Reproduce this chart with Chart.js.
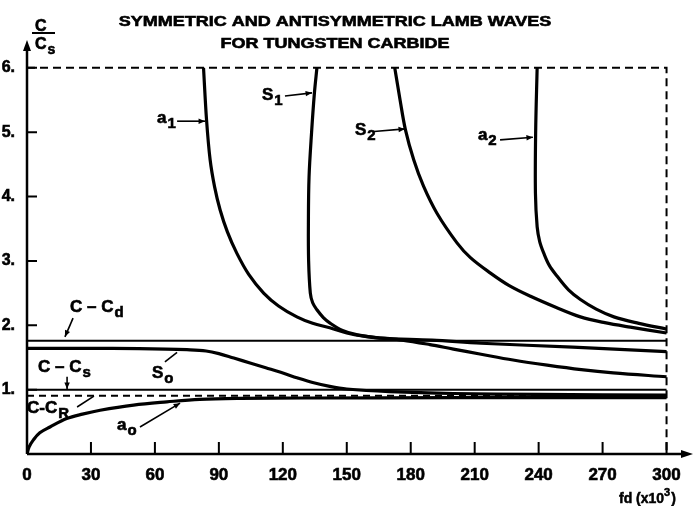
<!DOCTYPE html>
<html>
<head>
<meta charset="utf-8">
<script src="https://cdn.jsdelivr.net/npm/chart.js@4"></script>
<style>
  html, body { margin: 0; padding: 0; background: #fff; }
</style>
</head>
<body>
<canvas id="chart" width="698" height="506"></canvas>
<script>
// axis ticks
const xTicks = [0, 30, 60, 90, 120, 150, 180, 210, 240, 270, 300];
const yTicks = [1, 2, 3, 4, 5, 6];

// reference velocities (C/Cs)
const cdLevel = 1.76;
const csLevel = 1.0;
const crLevel = 0.905;
const frameTop = 6;
const frameRight = 300;

// antisymmetric modes (fd x10^3 -> C/Cs)
const a0Fd = [0, 1, 3, 6, 10.8, 18.6, 26, 34.3, 50, 65.6, 81, 100, 130, 200, 300];
const a0C  = [0, 0.11, 0.22, 0.33, 0.42, 0.55, 0.62, 0.68, 0.76, 0.81, 0.85, 0.865, 0.87, 0.875, 0.875];

const a1Fd = [82.8, 84.2, 85.9, 88, 90.6, 94, 98.4, 104, 111, 118, 126.6, 134, 142, 150, 158, 166, 176, 189, 200, 213, 228, 244, 260, 275, 300];
const a1C  = [6.0, 5.2, 4.57, 4.15, 3.79, 3.45, 3.12, 2.79, 2.5, 2.3, 2.13, 2.03, 1.96, 1.88, 1.83, 1.8, 1.77, 1.7, 1.63, 1.55, 1.46, 1.38, 1.31, 1.26, 1.2];

const a2Fd = [239.3, 238.6, 238.5, 239.3, 240.5, 242.4, 245, 248.7, 254, 259.6, 267, 275.3, 287, 300];
const a2C  = [6.0, 5.0, 4.05, 3.53, 3.3, 3.12, 2.93, 2.76, 2.55, 2.4, 2.25, 2.13, 2.03, 1.94];

// symmetric modes
const s0Fd = [0, 40, 65, 75, 84, 90, 97, 105, 112, 119, 127, 134, 142, 150, 170, 200, 240, 300];
const s0C  = [1.64, 1.64, 1.63, 1.62, 1.6, 1.56, 1.49, 1.41, 1.34, 1.27, 1.18, 1.11, 1.05, 1.01, 0.97, 0.94, 0.925, 0.915];

const s1Fd = [136, 134.8, 133.5, 132.3, 132, 132.1, 132.9, 134, 136, 139, 142.3, 148, 155, 166, 190, 213, 256, 300];
const s1C  = [6.0, 5.6, 5.0, 4.3, 3.6, 3.0, 2.5, 2.35, 2.24, 2.12, 2.03, 1.92, 1.85, 1.8, 1.77, 1.72, 1.66, 1.59];

const s2Fd = [172.5, 175, 177.5, 181.4, 186, 192.3, 201.7, 208, 217.4, 226, 236.2, 248, 259.6, 271, 283, 300];
const s2C  = [6.0, 5.5, 5.04, 4.57, 4.16, 3.74, 3.28, 3.05, 2.81, 2.62, 2.45, 2.28, 2.13, 2.04, 1.97, 1.88];

const FONT = '"Liberation Sans", Arial, Helvetica, sans-serif';

const pts = (xs, ys) => xs.map((v, i) => ({ x: v, y: ys[i] }));
const curve = (xs, ys) => ({
    data: pts(xs, ys), borderColor: '#000', borderWidth: 3.2,
    pointRadius: 0, showLine: true, tension: 0.35, fill: false
});
const level = (c, width, dash) => ({
    data: [{ x: 0, y: c }, { x: frameRight, y: c }], borderColor: '#000',
    borderWidth: width, borderDash: dash || [], pointRadius: 0, showLine: true, tension: 0
});

// label annotations: text, subscript, text position, pointer line (all in data units)
const notes = [
    { base: 'a', sub: '1', at: [61.0, 5.14], from: [70.4, 5.17], to: [83.5, 5.17], head: true },
    { base: 'S', sub: '1', at: [110.2, 5.50], from: [121.0, 5.56], to: [133.7, 5.61], head: true },
    { base: 'S', sub: '2', at: [153.8, 4.96], from: [162.8, 5.01], to: [177.3, 5.05], head: true },
    { base: 'a', sub: '2', at: [211.5, 4.88], from: [221.9, 4.88], to: [237.3, 4.92], head: true },
    { base: 'C \u2013 C', sub: 'd', at: [20.2, 2.21], from: [21.6, 2.11], to: [17.8, 1.82], head: true },
    { base: 'C \u2013 C', sub: 's', at: [5.2, 1.27], from: [18.8, 1.20], to: [18.8, 1.01], head: true },
    { base: 'C-C', sub: 'R', at: [0, 0.64], from: [23.5, 0.73], to: [31.4, 0.90], head: false },
    { base: 'S', sub: 'o', at: [58.6, 1.18], from: [64.7, 1.43], to: [70.4, 1.58], head: false },
    { base: 'a', sub: 'o', at: [42.2, 0.37], from: [53.0, 0.42], to: [71.8, 0.79], head: true }
];

// bold text drawn with a thin outline, to get the heavy look of the original
function heavy(ctx, t, x, y) {
    ctx.fillText(t, x, y);
    ctx.strokeText(t, x, y);
}

function subText(ctx, base, sub, px, py, size) {
    ctx.textAlign = 'left';
    ctx.textBaseline = 'alphabetic';
    ctx.lineWidth = 0.6;
    ctx.font = `bold ${size}px ${FONT}`;
    heavy(ctx, base, px, py);
    const w = ctx.measureText(base).width;
    ctx.font = `bold ${size - 2}px ${FONT}`;
    heavy(ctx, sub, px + w + 1, py + 5);
}

function arrow(ctx, x1, y1, x2, y2, head) {
    ctx.lineWidth = 1.6;
    ctx.beginPath();
    ctx.moveTo(x1, y1);
    ctx.lineTo(x2, y2);
    ctx.stroke();
    if (!head) return;
    const ang = Math.atan2(y2 - y1, x2 - x1);
    ctx.beginPath();
    ctx.moveTo(x2, y2);
    ctx.lineTo(x2 - 7 * Math.cos(ang - 0.4), y2 - 7 * Math.sin(ang - 0.4));
    ctx.lineTo(x2 - 7 * Math.cos(ang + 0.4), y2 - 7 * Math.sin(ang + 0.4));
    ctx.closePath();
    ctx.fill();
}

const drawings = {
    id: 'drawings',
    afterDraw(chart) {
        const { ctx, chartArea } = chart;
        const xs = chart.scales.x, ys = chart.scales.y;
        const X = v => xs.getPixelForValue(v), Y = v => ys.getPixelForValue(v);
        ctx.save();
        ctx.strokeStyle = '#000';
        ctx.fillStyle = '#000';

        // axes with arrows
        ctx.lineWidth = 2.5;
        ctx.beginPath();
        ctx.moveTo(X(0), Y(0));
        ctx.lineTo(X(0), chartArea.top + 6);
        ctx.moveTo(X(0), Y(0));
        ctx.lineTo(chartArea.right - 6, Y(0));
        ctx.stroke();
        ctx.beginPath();
        ctx.moveTo(X(0), chartArea.top - 2);
        ctx.lineTo(X(0) - 4, chartArea.top + 9);
        ctx.lineTo(X(0) + 4, chartArea.top + 9);
        ctx.closePath();
        ctx.fill();
        ctx.beginPath();
        ctx.moveTo(chartArea.right + 3, Y(0));
        ctx.lineTo(chartArea.right - 9, Y(0) - 4);
        ctx.lineTo(chartArea.right - 9, Y(0) + 4);
        ctx.closePath();
        ctx.fill();

        // inward tick marks
        ctx.lineWidth = 2;
        ctx.beginPath();
        yTicks.forEach(t => { ctx.moveTo(X(0), Y(t)); ctx.lineTo(X(0) + 10, Y(t)); });
        xTicks.forEach(t => { if (t > 0) { ctx.moveTo(X(t), Y(0)); ctx.lineTo(X(t), Y(0) - 12); } });
        ctx.stroke();

        // title
        ctx.textAlign = 'center';
        ctx.textBaseline = 'alphabetic';
        ctx.font = `bold 15px ${FONT}`;
        ctx.lineWidth = 0.6;
        [['SYMMETRIC AND ANTISYMMETRIC LAMB WAVES', 26], ['FOR TUNGSTEN CARBIDE', 48]].forEach(([t, by]) => {
            ctx.save();
            ctx.translate(335, by);
            ctx.scale(1.2, 1);
            heavy(ctx, t, 0, 0);
            ctx.restore();
        });

        // y axis label C / Cs
        ctx.textAlign = 'left';
        ctx.font = `bold 16px ${FONT}`;
        heavy(ctx, 'C', 35, 31);
        ctx.fillRect(32, 32, 23, 2);
        subText(ctx, 'C', 's', 35, 49, 16);

        // x axis label
        ctx.textAlign = 'left';
        ctx.lineWidth = 0.5;
        ctx.font = `bold 14px ${FONT}`;
        heavy(ctx, 'fd (x10', 619, 503);
        const w = ctx.measureText('fd (x10').width;
        ctx.font = `bold 11px ${FONT}`;
        heavy(ctx, '3', 619 + w, 496);
        const w3 = ctx.measureText('3').width;
        ctx.font = `bold 14px ${FONT}`;
        heavy(ctx, ')', 619 + w + w3 + 1, 503);

        // curve annotations
        notes.forEach(n => {
            subText(ctx, n.base, n.sub, X(n.at[0]), Y(n.at[1]), 17);
            arrow(ctx, X(n.from[0]), Y(n.from[1]), X(n.to[0]), Y(n.to[1]), n.head);
        });
        ctx.restore();
    }
};

new Chart(document.getElementById('chart'), {
    type: 'scatter',
    data: {
        datasets: [
            level(cdLevel, 2),
            level(csLevel, 2),
            level(crLevel, 2, [7, 5]),
            { data: [{ x: 0, y: frameTop }, { x: frameRight, y: frameTop }, { x: frameRight, y: 0 }],
              borderColor: '#000', borderWidth: 2, borderDash: [8, 5], pointRadius: 0, showLine: true, tension: 0 },
            curve(a0Fd, a0C),
            curve(s0Fd, s0C),
            curve(a1Fd, a1C),
            curve(s1Fd, s1C),
            curve(s2Fd, s2C),
            curve(a2Fd, a2C)
        ]
    },
    options: {
        responsive: false,
        animation: false,
        layout: { padding: { left: 0, right: 8, top: 42, bottom: 0 } },
        plugins: { legend: { display: false }, tooltip: { enabled: false } },
        scales: {
            x: {
                type: 'linear', min: 0, max: 311,
                border: { display: false }, grid: { display: false },
                ticks: { color: '#000', padding: 3, autoSkip: false, maxRotation: 0,
                         textStrokeColor: '#000', textStrokeWidth: 0.6,
                         font: { family: FONT, size: 17, weight: 'bold' }, callback: v => String(v) },
                afterBuildTicks: s => { s.ticks = xTicks.map(v => ({ value: v })); },
                afterFit: s => { s.height = 52; }
            },
            y: {
                type: 'linear', min: 0, max: 6.4,
                border: { display: false }, grid: { display: false },
                ticks: { color: '#000', padding: 4,
                         textStrokeColor: '#000', textStrokeWidth: 0.6,
                         font: { family: FONT, size: 16, weight: 'bold' }, callback: v => v + '.' },
                afterBuildTicks: s => { s.ticks = yTicks.map(v => ({ value: v })); },
                afterFit: s => { s.width = 27; }
            }
        }
    },
    plugins: [drawings]
});
</script>
</body>
</html>
